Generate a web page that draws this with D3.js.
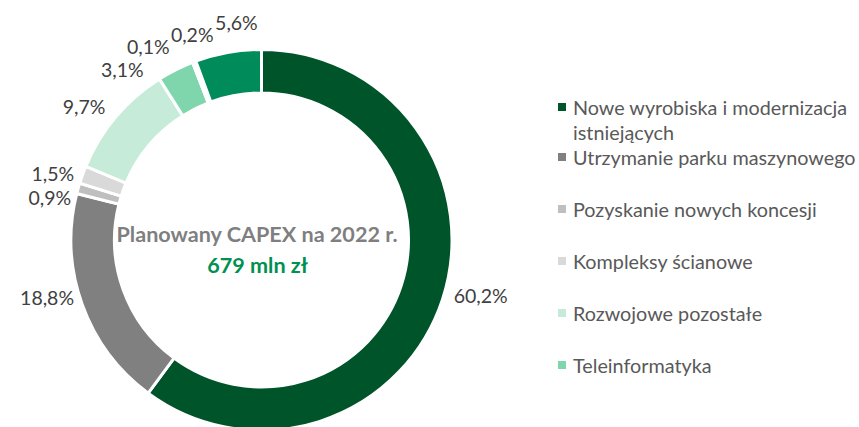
<!DOCTYPE html>
<html><head><meta charset="utf-8">
<script src="https://cdn.jsdelivr.net/npm/d3@7"></script>
<style>
html,body{margin:0;padding:0;background:#fff;}
svg{display:block;font-family:Lato,"Open Sans",sans-serif;}
</style></head>
<body><svg id="chart" width="859" height="427"></svg>
<script>
// ---- data ----
const categories = [
  "Nowe wyrobiska i modernizacja istniejących",
  "Utrzymanie parku maszynowego",
  "Pozyskanie nowych koncesji",
  "Kompleksy ścianowe",
  "Rozwojowe pozostałe",
  "Teleinformatyka",
  "Ochrona środowiska",
  "Inwestycje BHP",
  "Pozostałe"
];
const values = [60.2, 18.8, 0.9, 1.5, 9.7, 3.1, 0.1, 0.2, 5.6];
const valueLabels = ["60,2%","18,8%","0,9%","1,5%","9,7%","3,1%","0,1%","0,2%","5,6%"];
const legendShown = 6;
const centerTitle = "Planowany CAPEX na 2022 r.";
const centerValue = "679 mln zł";

// ---- style ----
const colors = ["#00542a","#808080","#bfbfbf","#d9d9d9","#c6ecd9","#80d6ac","#5fbf8f","#3aa877","#008c5a"];
// label nudges (Excel-style placement adjustments)
const labelNudge = [[7,-9],[-4,-12],[-2,13],[-4,4],[-11,0],[-41,14],[-35,-1],[7,-12],[13,-14]];

const svg = d3.select("#chart");
const cx = 261.5, cy = 240, rOuter = 190.5, rInner = 147;

const pie = d3.pie().sort(null).value(d => d);
const arcs = pie(values);
const arc = d3.arc().innerRadius(rInner).outerRadius(rOuter);

const g = svg.append("g").attr("transform", `translate(${cx},${cy})`);
g.selectAll("path.slice").data(arcs).join("path")
  .attr("class","slice")
  .attr("d", arc)
  .attr("fill", (d,i) => colors[i])
  .attr("stroke", "#fff")
  .attr("stroke-width", 3)
  .attr("stroke-linejoin","miter");

// outside-end labels
const lblR = rOuter + 6;
g.selectAll("text.lbl").data(arcs).join("text")
  .attr("class","lbl")
  .attr("font-size", 19.5)
  .attr("fill", "#404040")
  .attr("text-anchor","middle")
  .attr("dominant-baseline","central")
  .text((d,i) => valueLabels[i])
  .each(function(d,i){
    const a = (d.startAngle + d.endAngle)/2;
    const ux = Math.sin(a), uy = -Math.cos(a);
    const w = this.getComputedTextLength(), h = 20;
    const x = lblR*ux + ux*w/2 + labelNudge[i][0];
    const y = lblR*uy + uy*h/2 + labelNudge[i][1];
    d3.select(this).attr("x", x).attr("y", y);
  });

// center text
svg.append("text").attr("x", 257).attr("y", 242)
  .attr("text-anchor","middle").attr("font-size", 21.6).attr("font-weight","bold")
  .attr("fill","#7f7f7f").text(centerTitle);
svg.append("text").attr("x", 257.5).attr("y", 273)
  .attr("text-anchor","middle").attr("font-size", 21.6).attr("font-weight","bold")
  .attr("fill","#009052").text(centerValue);

// legend
const legendItems = categories.slice(0, legendShown).map((c,i) => ({name:c, color:colors[i]}));
const legendLines = [["Nowe wyrobiska i modernizacja","istniejących"],["Utrzymanie parku maszynowego"],["Pozyskanie nowych koncesji"],["Kompleksy ścianowe"],["Rozwojowe pozostałe"],["Teleinformatyka"]];
const legendY = d3.scalePoint().domain(d3.range(1, legendShown)).range([157, 365]);
const lg = svg.append("g");
legendItems.forEach((it,i) => {
  const y = i === 0 ? 107 : legendY(i);
  lg.append("rect").attr("x", 558).attr("y", y-4).attr("width", 8).attr("height", 8).attr("fill", it.color);
  const t = lg.append("text").attr("x", 573).attr("y", y)
    .attr("dominant-baseline","central").attr("font-size", 19.8).attr("fill", "#595959");
  legendLines[i].forEach((ln,k) => t.append("tspan").attr("x",573).attr("dy", k===0?0:25).text(ln));
});
</script>
</body></html>
